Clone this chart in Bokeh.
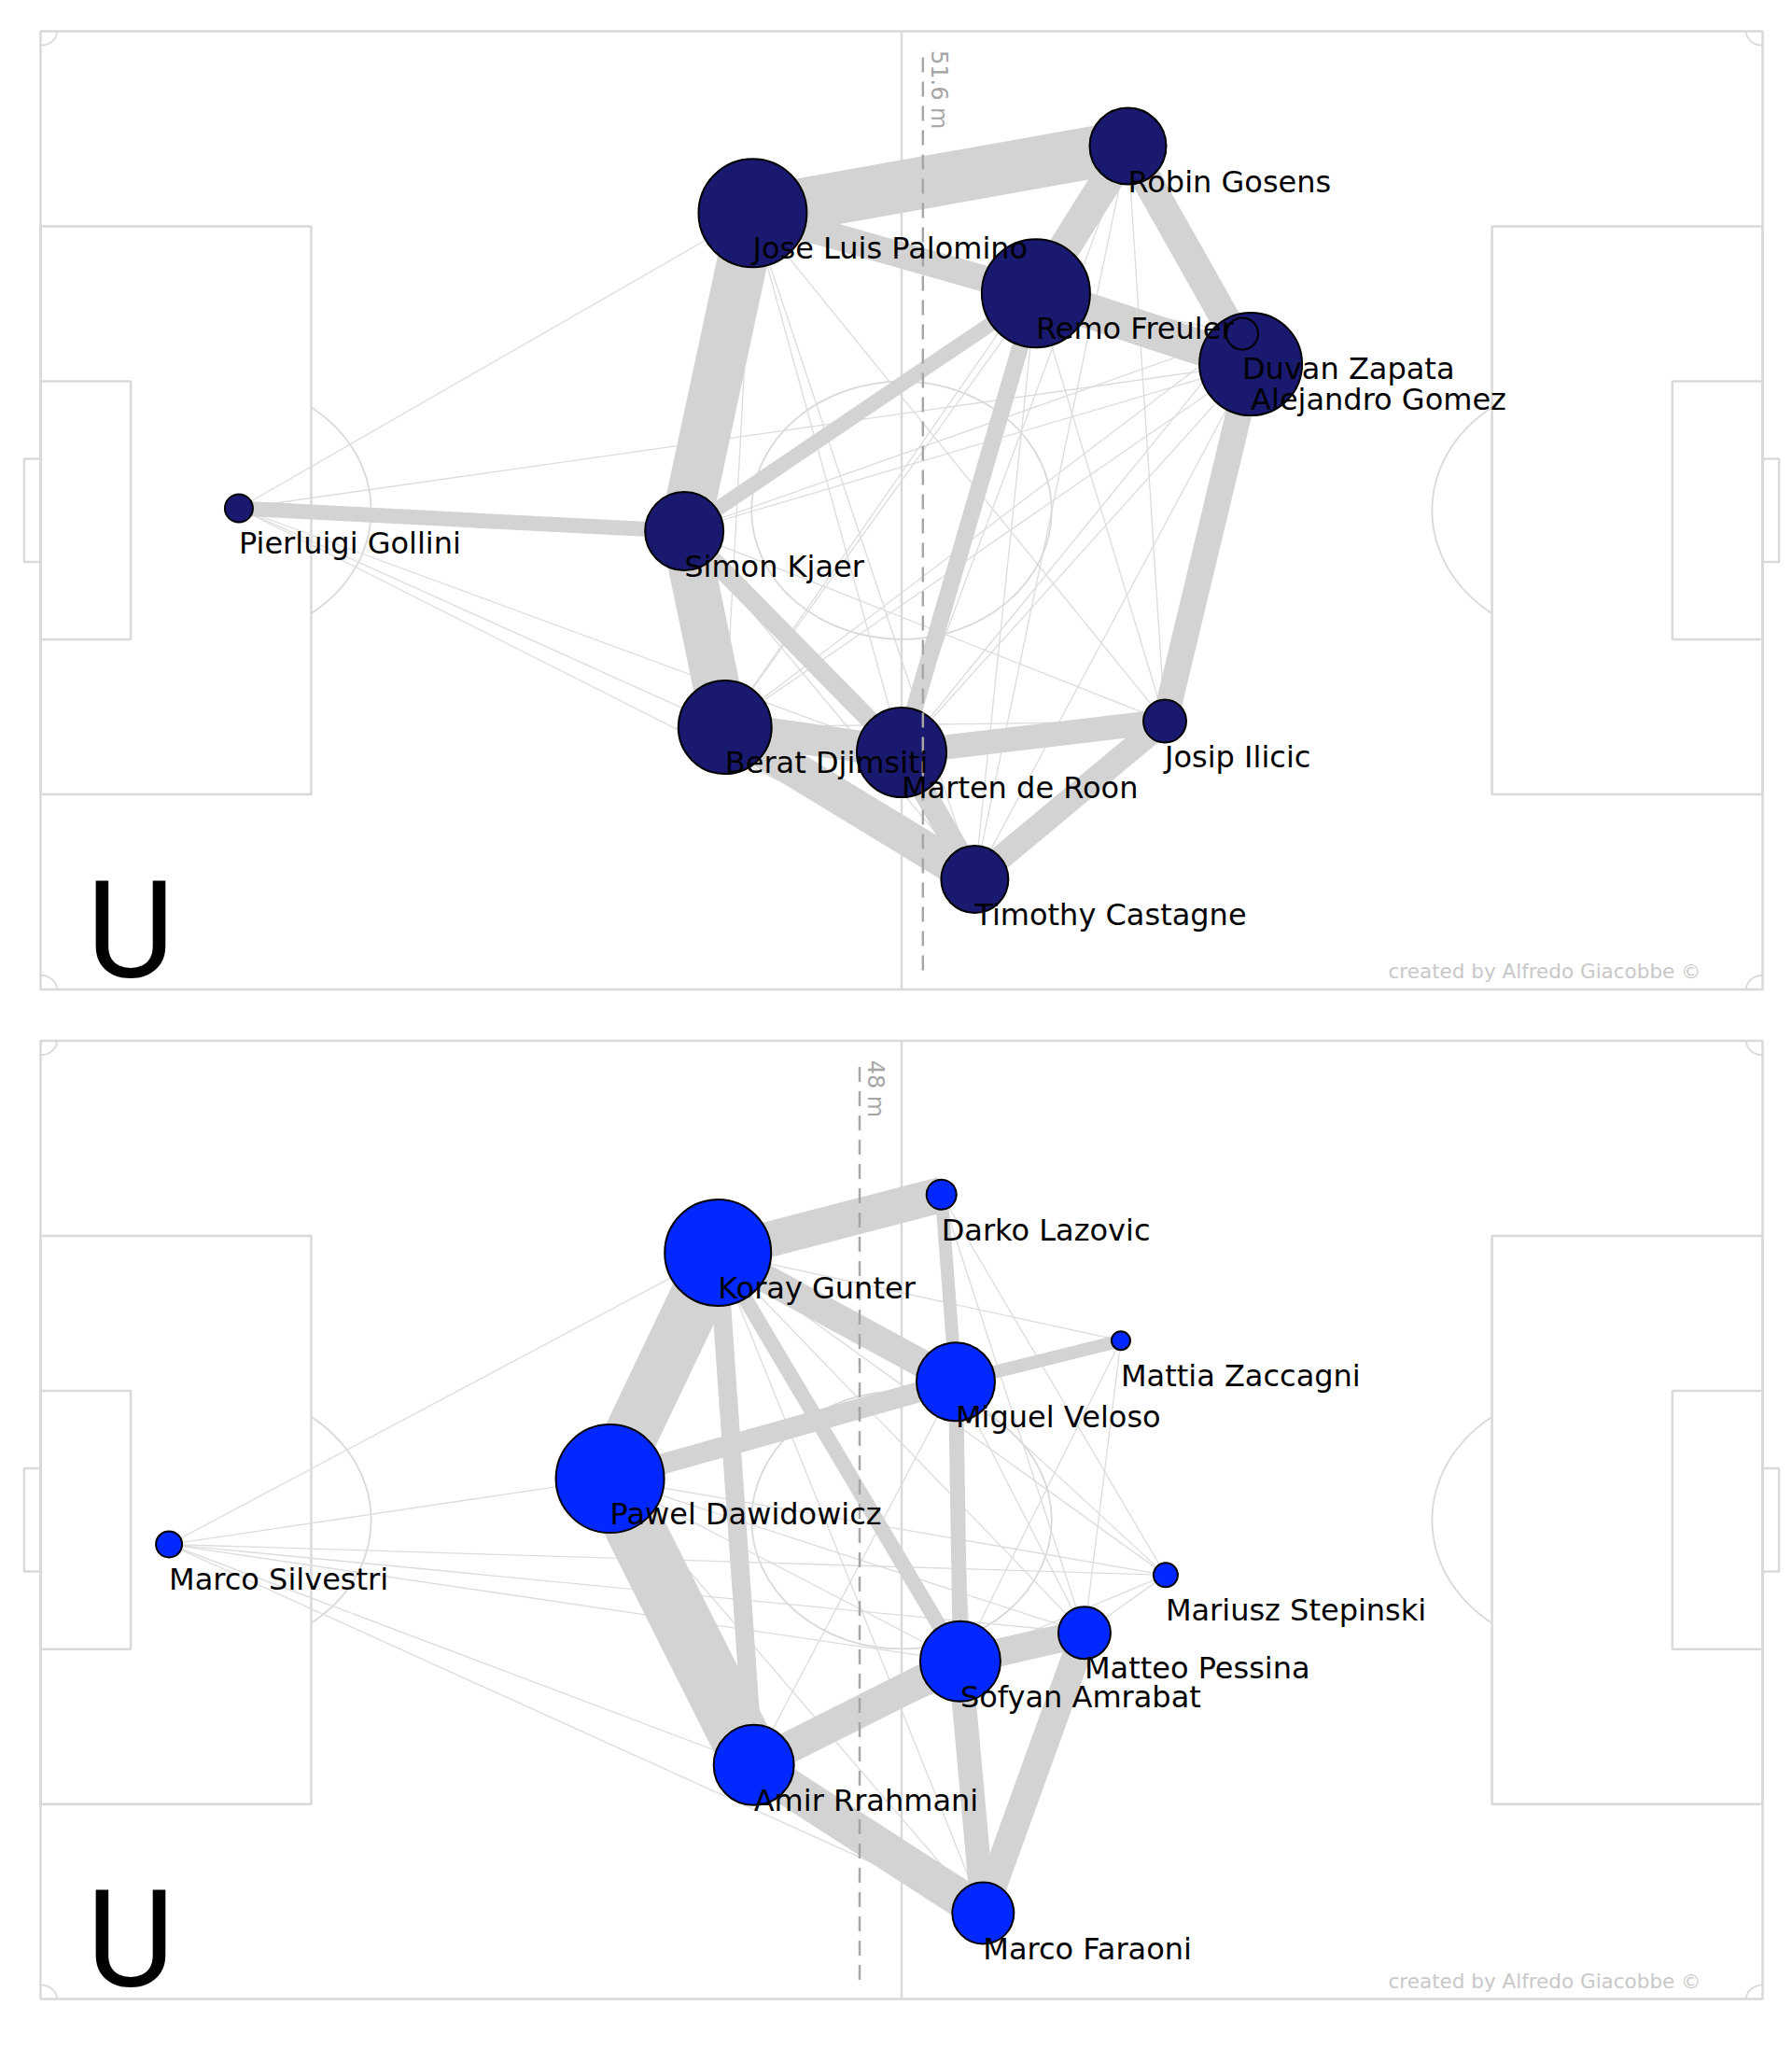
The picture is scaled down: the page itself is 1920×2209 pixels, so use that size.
import numpy as np
from bokeh.plotting import figure
from bokeh.layouts import column
from bokeh.models import ColumnDataSource, Range1d
from bokeh.core.properties import value
from bokeh.embed import file_html
from bokeh.resources import INLINE

# ---------------- data: top team (Atalanta) ----------------
top_names = ["Pierluigi Gollini", "Simon Kjaer", "Jose Luis Palomino", "Robin Gosens",
             "Remo Freuler", "Alejandro Gomez", "Duvan Zapata", "Berat Djimsiti",
             "Marten de Roon", "Josip Ilicic", "Timothy Castagne"]
top_x = [12.09, 39.25, 43.42, 66.30, 60.69, 73.79, 73.27, 41.73, 52.50, 68.55, 56.96]
top_y = [34.15, 32.52, 55.10, 59.85, 49.40, 44.38, 46.54, 18.61, 16.82, 19.04, 7.81]
top_touches = [15, 42, 58, 41, 58, 55, 17, 50, 48, 23, 36]

top_edge_from = ["Pierluigi Gollini", "Simon Kjaer", "Simon Kjaer", "Simon Kjaer", "Simon Kjaer",
                 "Jose Luis Palomino", "Jose Luis Palomino", "Remo Freuler", "Robin Gosens",
                 "Remo Freuler", "Alejandro Gomez", "Remo Freuler", "Berat Djimsiti",
                 "Berat Djimsiti", "Marten de Roon", "Marten de Roon", "Josip Ilicic",
                 # thin
                 "Pierluigi Gollini", "Pierluigi Gollini", "Pierluigi Gollini", "Pierluigi Gollini",
                 "Pierluigi Gollini", "Jose Luis Palomino", "Jose Luis Palomino",
                 "Jose Luis Palomino", "Jose Luis Palomino", "Robin Gosens", "Robin Gosens",
                 "Robin Gosens", "Robin Gosens", "Remo Freuler", "Remo Freuler", "Remo Freuler",
                 "Alejandro Gomez", "Alejandro Gomez", "Alejandro Gomez", "Alejandro Gomez",
                 "Duvan Zapata", "Duvan Zapata", "Duvan Zapata", "Duvan Zapata", "Duvan Zapata",
                 "Simon Kjaer", "Simon Kjaer", "Berat Djimsiti"]
top_edge_to = ["Simon Kjaer", "Jose Luis Palomino", "Berat Djimsiti", "Remo Freuler", "Marten de Roon",
               "Robin Gosens", "Remo Freuler", "Robin Gosens", "Alejandro Gomez",
               "Alejandro Gomez", "Josip Ilicic", "Marten de Roon", "Marten de Roon",
               "Timothy Castagne", "Josip Ilicic", "Timothy Castagne", "Timothy Castagne",
               # thin
               "Jose Luis Palomino", "Alejandro Gomez", "Berat Djimsiti", "Marten de Roon",
               "Timothy Castagne", "Marten de Roon", "Josip Ilicic",
               "Timothy Castagne", "Berat Djimsiti", "Marten de Roon", "Josip Ilicic",
               "Timothy Castagne", "Berat Djimsiti", "Josip Ilicic", "Timothy Castagne", "Berat Djimsiti",
               "Simon Kjaer", "Marten de Roon", "Berat Djimsiti", "Timothy Castagne",
               "Simon Kjaer", "Marten de Roon", "Remo Freuler", "Josip Ilicic", "Berat Djimsiti",
               "Josip Ilicic", "Timothy Castagne", "Josip Ilicic"]
top_edge_passes = [8, 27, 25, 8, 10, 28, 14, 17, 16, 19, 14, 9, 17, 19, 13, 12, 13,
                   1, 1, 1, 1, 1, 1, 1, 1, 1, 1, 1, 1, 1, 1, 1, 1, 1, 1, 1, 1,
                   1, 1, 1, 1, 1, 1, 1, 1]
top_avg_x = 53.8
top_avg_label = "51.6 m"
top_color = "#191970"

# ---------------- data: bottom team (Parma) ----------------
bot_names = ["Marco Silvestri", "Koray Gunter", "Pawel Dawidowicz", "Darko Lazovic",
             "Miguel Veloso", "Mattia Zaccagni", "Mariusz Stepinski", "Matteo Pessina",
             "Sofyan Amrabat", "Amir Rrahmani", "Marco Faraoni"]
bot_x = [7.83, 41.30, 34.72, 54.93, 55.80, 65.87, 68.60, 63.65, 56.08, 43.49, 57.47]
bot_y = [32.27, 52.97, 36.93, 57.09, 43.81, 46.73, 30.09, 25.99, 23.97, 16.61, 6.10]
bot_touches = [14, 57, 58, 16, 42, 10, 13, 28, 43, 43, 33]

bot_edge_from = ["Koray Gunter", "Koray Gunter", "Koray Gunter", "Koray Gunter", "Koray Gunter",
                 "Pawel Dawidowicz", "Pawel Dawidowicz", "Amir Rrahmani", "Amir Rrahmani",
                 "Sofyan Amrabat", "Sofyan Amrabat", "Matteo Pessina", "Miguel Veloso",
                 "Miguel Veloso", "Miguel Veloso",
                 # thin
                 "Marco Silvestri", "Marco Silvestri", "Marco Silvestri", "Marco Silvestri",
                 "Marco Silvestri", "Marco Silvestri", "Marco Silvestri",
                 "Darko Lazovic", "Darko Lazovic", "Darko Lazovic",
                 "Mattia Zaccagni", "Mattia Zaccagni", "Mattia Zaccagni",
                 "Mariusz Stepinski", "Mariusz Stepinski", "Mariusz Stepinski",
                 "Mariusz Stepinski", "Mariusz Stepinski",
                 "Matteo Pessina", "Matteo Pessina", "Matteo Pessina", "Matteo Pessina",
                 "Marco Faraoni", "Marco Faraoni", "Marco Faraoni",
                 "Pawel Dawidowicz", "Amir Rrahmani"]
bot_edge_to = ["Darko Lazovic", "Pawel Dawidowicz", "Miguel Veloso", "Sofyan Amrabat", "Amir Rrahmani",
               "Miguel Veloso", "Amir Rrahmani", "Sofyan Amrabat", "Marco Faraoni",
               "Matteo Pessina", "Marco Faraoni", "Marco Faraoni", "Sofyan Amrabat",
               "Darko Lazovic", "Mattia Zaccagni",
               # thin
               "Koray Gunter", "Pawel Dawidowicz", "Amir Rrahmani", "Marco Faraoni",
               "Mariusz Stepinski", "Sofyan Amrabat", "Matteo Pessina",
               "Mariusz Stepinski", "Matteo Pessina", "Sofyan Amrabat",
               "Koray Gunter", "Matteo Pessina", "Sofyan Amrabat",
               "Koray Gunter", "Pawel Dawidowicz", "Miguel Veloso",
               "Sofyan Amrabat", "Matteo Pessina",
               "Koray Gunter", "Pawel Dawidowicz", "Miguel Veloso", "Amir Rrahmani",
               "Koray Gunter", "Miguel Veloso", "Pawel Dawidowicz",
               "Sofyan Amrabat", "Miguel Veloso"]
bot_edge_passes = [19, 29, 15, 8, 10, 11, 32, 17, 20, 15, 13, 15, 8, 7, 7,
                   1, 1, 1, 1, 1, 1, 1, 1, 1, 1, 1, 1, 1, 1, 1, 1, 1, 1,
                   1, 1, 1, 1, 1, 1, 1, 1, 1]
bot_avg_x = 49.94
bot_avg_label = "48 m"
bot_color = "#0028ff"

credit_text = "created by Alfredo Giacobbe \u00a9"
logo_text = "U"

# ---------------- layout constants ----------------
PITCH_L, PITCH_W = 105.0, 68.0
W = 1920
SX = 1845.0 / PITCH_L          # px per metre horizontally
SY = 1026.5 / PITCH_W          # px per metre vertically
PITCH_LEFT_PX = 43.0
LINE_COL = "#d9d9d9"
EDGE_COL = "#d3d3d3"
THIN_COL = "#dcdcdc"
LABEL_DY = 38.0 / SY           # label anchor below node centre


def arc(cx, cy, r, a0, a1, n=80):
    t = np.linspace(a0, a1, n)
    return list(cx + r * np.cos(t)), list(cy + r * np.sin(t))


def draw_pitch(p):
    kw = dict(fill_color=None, line_color=LINE_COL, line_width=2.5)
    p.quad(left=[0], right=[PITCH_L], bottom=[0], top=[PITCH_W], **kw)
    for l, r in [(0, 16.5), (PITCH_L - 16.5, PITCH_L)]:
        p.quad(left=[l], right=[r], bottom=[PITCH_W / 2 - 20.16], top=[PITCH_W / 2 + 20.16], **kw)
    for l, r in [(0, 5.5), (PITCH_L - 5.5, PITCH_L)]:
        p.quad(left=[l], right=[r], bottom=[PITCH_W / 2 - 9.16], top=[PITCH_W / 2 + 9.16], **kw)
    for l, r in [(-1.0, 0), (PITCH_L, PITCH_L + 1.0)]:
        p.quad(left=[l], right=[r], bottom=[PITCH_W / 2 - 3.66], top=[PITCH_W / 2 + 3.66], **kw)
    p.segment(x0=[PITCH_L / 2], y0=[0], x1=[PITCH_L / 2], y1=[PITCH_W],
              line_color=LINE_COL, line_width=2.5)
    p.ellipse(x=[PITCH_L / 2], y=[PITCH_W / 2], width=[18.3], height=[18.3],
              fill_color=None, line_color=LINE_COL, line_width=1.8)
    t0 = np.arccos(5.5 / 9.15)
    xs, ys = [], []
    for cx, a0, a1 in [(11.0, -t0, t0), (PITCH_L - 11.0, np.pi - t0, np.pi + t0)]:
        ax, ay = arc(cx, PITCH_W / 2, 9.15, a0, a1)
        xs.append(ax); ys.append(ay)
    for cx, cy, a0 in [(0, 0, 0), (0, PITCH_W, -np.pi / 2), (PITCH_L, 0, np.pi / 2),
                       (PITCH_L, PITCH_W, np.pi)]:
        ax, ay = arc(cx, cy, 1.0, a0, a0 + np.pi / 2, 30)
        xs.append(ax); ys.append(ay)
    p.multi_line(xs=xs, ys=ys, line_color=LINE_COL, line_width=1.8)


def make_panel(height, top_px, names, xs, ys, touches, e_from, e_to, e_passes,
               avg_x, avg_label, color):
    y_end = PITCH_W + top_px / SY
    y_start = y_end - height / SY
    x_start = -PITCH_LEFT_PX / SX
    p = figure(width=W, height=height, output_backend="svg", toolbar_location=None,
               x_axis_type=None, y_axis_type=None,
               x_range=Range1d(x_start, x_start + W / SX),
               y_range=Range1d(y_start, y_end),
               min_border=0, outline_line_color=None,
               background_fill_color="white", border_fill_color="white")
    p.grid.visible = False
    draw_pitch(p)

    pos = {n: (x, y) for n, x, y in zip(names, xs, ys)}
    thin = dict(x0=[], y0=[], x1=[], y1=[])
    thick = dict(x0=[], y0=[], x1=[], y1=[], w=[])
    for a, b, n in zip(e_from, e_to, e_passes):
        d = thick if n >= 3 else thin
        d["x0"].append(pos[a][0]); d["y0"].append(pos[a][1])
        d["x1"].append(pos[b][0]); d["y1"].append(pos[b][1])
        if n >= 3:
            d["w"].append(2.0 * n)
    p.segment(x0="x0", y0="y0", x1="x1", y1="y1", source=ColumnDataSource(thin),
              line_color=THIN_COL, line_width=1.3)
    p.segment(x0="x0", y0="y0", x1="x1", y1="y1", source=ColumnDataSource(thick),
              line_color=EDGE_COL, line_width="w")

    nodes = ColumnDataSource(dict(x=xs, y=ys, size=[2 * t for t in touches],
                                  name=names, ly=[y - LABEL_DY for y in ys]))
    p.scatter(x="x", y="y", size="size", source=nodes, fill_color=color,
              line_color="black", line_width=2)

    # average team line
    p.segment(x0=[avg_x], y0=[0.02 * PITCH_W], x1=[avg_x], y1=[0.98 * PITCH_W],
              line_color="#a6a6a6", line_width=2.5, line_dash="16 10")
    p.text(x=[avg_x + 17.0 / SX], y=[0.98 * PITCH_W], text=[avg_label], angle=-np.pi / 2,
           text_font=value("DejaVu Sans"), text_font_size="24px", text_color="#a6a6a6",
           text_align="left", text_baseline="alphabetic")

    p.text(x="x", y="ly", text="name", source=nodes, text_font=value("DejaVu Sans"),
           text_font_size="32px", text_color="black", text_align="left",
           text_baseline="alphabetic")

    p.text(x=[2.8], y=[4.2], text=[logo_text], text_font=value("Roboto"),
           text_font_size="145px", text_color="black", text_align="left",
           text_baseline="alphabetic")
    p.text(x=[101.25], y=[1.29], text=[credit_text], text_font=value("DejaVu Sans"),
           text_font_size="21.5px", text_color="#c8c8c8", text_align="right",
           text_baseline="alphabetic")
    return p


p1 = make_panel(1086, 33.0, top_names, top_x, top_y, top_touches, top_edge_from,
                top_edge_to, top_edge_passes, top_avg_x, top_avg_label, top_color)
p2 = make_panel(1123, 28.6, bot_names, bot_x, bot_y, bot_touches, bot_edge_from,
                bot_edge_to, bot_edge_passes, bot_avg_x, bot_avg_label, bot_color)

layout = column(p1, p2, spacing=0)
open("out.html", "w").write(file_html(layout, INLINE))
